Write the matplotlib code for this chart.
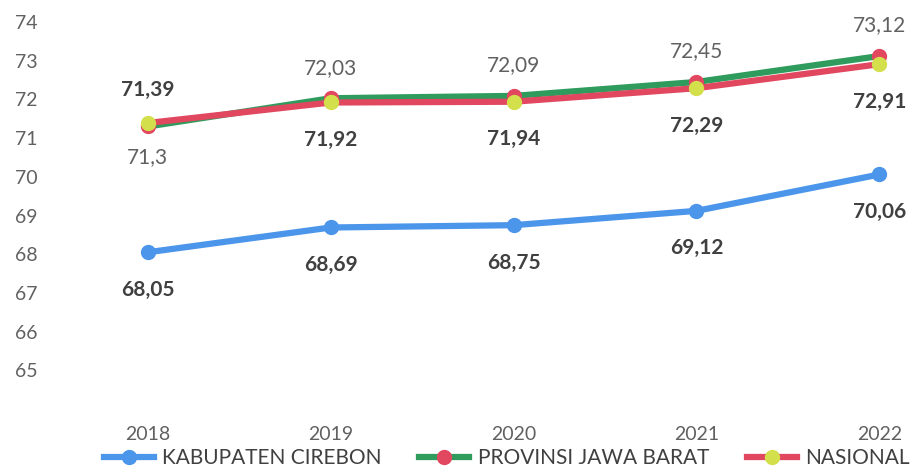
import matplotlib
matplotlib.use("Agg")
import matplotlib.pyplot as plt
from matplotlib.lines import Line2D

years = ["2018", "2019", "2020", "2021", "2022"]
kab_cirebon = [68.05, 68.69, 68.75, 69.12, 70.06]
jabar = [71.30, 72.03, 72.09, 72.45, 73.12]
nasional = [71.39, 71.92, 71.94, 72.29, 72.91]
y_ticks = [65, 66, 67, 68, 69, 70, 71, 72, 73, 74]
series_names = ["KABUPATEN CIREBON", "PROVINSI JAWA BARAT", "NASIONAL"]

plt.rcParams['font.family'] = ['Lato', 'DejaVu Sans']

BLUE = "#4b95ea"
GREEN = "#2f9b5d"
RED = "#e24760"
YEL = "#d3e04c"
TICK = "#616161"
LAB = "#404040"

fig = plt.figure(figsize=(9.13, 4.73), dpi=100)
ax = fig.add_axes([60/913, 1 - 409/473, (905-60)/913, (409-22)/473])

x = list(range(len(years)))
lw = 4.5
ms = 10
ax.plot(x, kab_cirebon, color=BLUE, lw=lw, marker='o', ms=ms, mfc=BLUE, mec=BLUE, zorder=3)
ax.plot(x, jabar, color=GREEN, lw=lw, marker='o', ms=ms, mfc=RED, mec=RED, zorder=4)
ax.plot(x, nasional, color=RED, lw=lw, marker='o', ms=ms, mfc=YEL, mec=YEL, zorder=5)

def fmt(v):
    s = f"{v:.2f}".rstrip('0').rstrip('.') if abs(v*10 - round(v*10)) < 1e-9 else f"{v:.2f}"
    return s.replace('.', ',')

LS = 15
for i, v in enumerate(kab_cirebon):
    ax.annotate(fmt(v), (i, v), xytext=(0, -27), textcoords='offset points',
                ha='center', va='center', fontsize=LS, fontweight='bold', color=LAB)
for i, v in enumerate(jabar):
    off = -22 if i == 0 else 22
    ax.annotate(fmt(v), (i, v), xytext=(0, off), textcoords='offset points',
                ha='center', va='center', fontsize=LS, color=TICK)
for i, v in enumerate(nasional):
    off = 24 if i == 0 else -27
    ax.annotate(fmt(v), (i, v), xytext=(0, off), textcoords='offset points',
                ha='center', va='center', fontsize=LS, fontweight='bold', color=LAB)

ax.set_ylim(64, 74)
ax.set_xlim(-0.48, 4.14)
ax.set_yticks(y_ticks)
ax.set_yticklabels([str(t) for t in y_ticks])
ax.set_xticks(x)
ax.set_xticklabels(years)
ax.tick_params(axis='both', length=0, labelsize=14, labelcolor=TICK)
ax.tick_params(axis='x', pad=12)
ax.tick_params(axis='y', pad=16)
for s in ax.spines.values():
    s.set_visible(False)

handles = [
    Line2D([], [], color=BLUE, lw=lw, marker='o', ms=ms, mfc=BLUE, mec=BLUE),
    Line2D([], [], color=GREEN, lw=lw, marker='o', ms=ms, mfc=RED, mec=RED),
    Line2D([], [], color=RED, lw=lw, marker='o', ms=ms, mfc=YEL, mec=YEL),
]
leg = fig.legend(handles, series_names, loc='center', bbox_to_anchor=(0.555, 1 - 458/473),
                 ncol=3, frameon=False, fontsize=15, handlelength=2.4, columnspacing=1.8,
                 handletextpad=0.4, borderaxespad=0, borderpad=0)
for t in leg.get_texts():
    t.set_color(LAB)

fig.savefig("out.png", dpi=100)
